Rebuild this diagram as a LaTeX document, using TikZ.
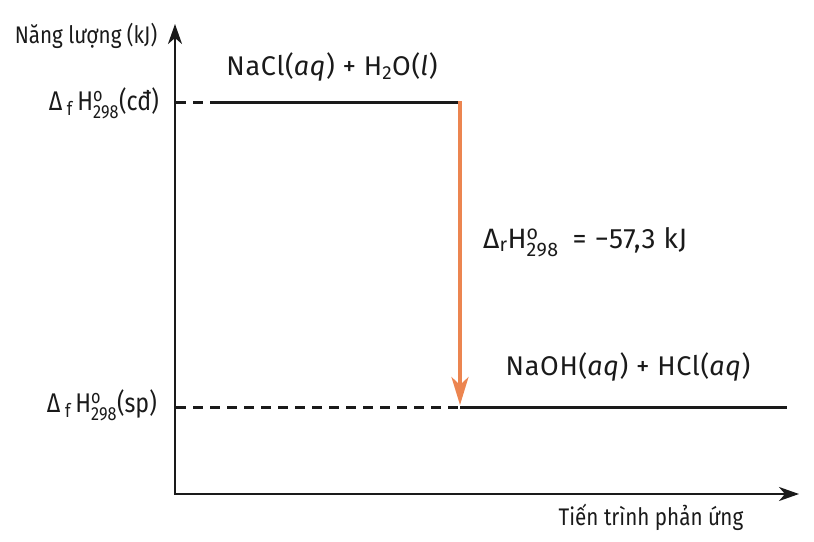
\documentclass[tikz,border=0pt]{standalone}
\usepackage{amsmath}
\usepackage{fontspec}
\setmainfont{Fira Sans}
\newfontfamily\condensed{Fira Sans}[FakeStretch=0.86]
\newfontfamily\spaced{Fira Sans}[LetterSpace=2.5]
\usetikzlibrary{arrows.meta}
\definecolor{orangec}{HTML}{EC8550}
\definecolor{inkc}{HTML}{1A1A1A}
\tikzset{
  axisline/.style={draw=inkc, line width=2.2pt, -{Stealth[length=20pt,width=14pt,inset=6pt]}},
  levelline/.style={draw=inkc, line width=3pt},
  dashline/.style={draw=inkc, line width=3pt, dash pattern=on 10pt off 7pt},
  energyarrow/.style={draw=orangec, line width=3.4pt, -{Stealth[length=28pt,width=17pt,inset=8pt]}},
  condlabel/.style={font=\condensed\fontsize{24}{28}\selectfont, text=inkc, inner sep=0pt},
  specieslabel/.style={font=\spaced\fontsize{27}{30}\selectfont, text=inkc, inner sep=0pt},
}
\begin{document}
\begin{tikzpicture}[x=1pt,y=-1pt]
\useasboundingbox (0,0) rectangle (814,541);
% axes
\coordinate (O) at (175,494);
\coordinate (ytip) at (175,24);
\coordinate (xtip) at (799,494);
\draw[axisline] (O) -- (ytip);
\draw[axisline] ([xshift=-1.1pt]O) -- (xtip);
% levels
\coordinate (topA) at (176,102);
\coordinate (topB) at (213,102);
\coordinate (topC) at (460,102);
\coordinate (botA) at (176,407);
\coordinate (botB) at (460,407);
\coordinate (botC) at (787,407);
\draw[dashline] (topA) -- (topB);
\draw[levelline] (topB) -- (topC);
\draw[dashline] (botA) -- (botB);
\draw[levelline] (botB) -- (botC);
\draw[energyarrow] ([yshift=1pt]topC) -- ([yshift=2pt]botB);
% labels
\node[condlabel] (ylab) at (86,36) {Năng lượng (kJ)};
\node[condlabel] (xlab) at (651,517) {Tiến trình phản ứng};
\node[condlabel, anchor=east, font=\condensed\fontsize{27}{30}\selectfont] (hcd) at (159,103) {Δ\,\textsubscript{f}\,H$^{\text{o}}_{\text{298}}$(cđ)};
\node[condlabel, anchor=east, font=\condensed\fontsize{27}{30}\selectfont] (hsp) at (157,405) {Δ\,\textsubscript{f}\,H$^{\text{o}}_{\text{298}}$(sp)};
\node[specieslabel] (top) at (332,67) {NaCl(\textit{aq}) + H\textsubscript{2}O(\textit{l})};
\node[specieslabel] (bot) at (628,367) {NaOH(\textit{aq}) + HCl(\textit{aq})};
\node[specieslabel, anchor=west, font=\spaced\fontsize{28}{30}\selectfont] (dh) at (483,242) {Δ\textsubscript{r}H$^{\text{o}}_{\text{298}}$\hspace{14pt}= −57,3 kJ};
\end{tikzpicture}
\end{document}
